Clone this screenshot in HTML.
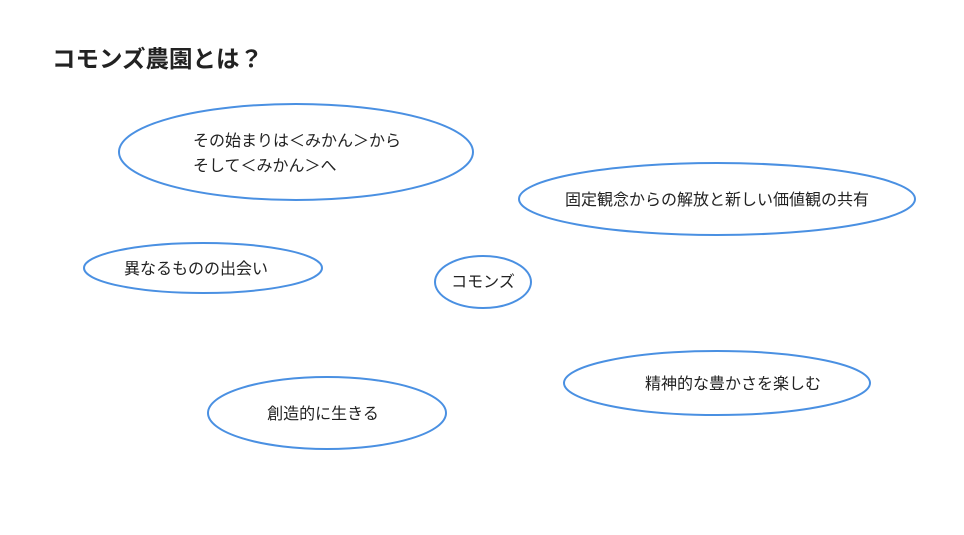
<!DOCTYPE html>
<html><head><meta charset="utf-8"><style>
html,body{margin:0;padding:0;background:#fff;}
svg{display:block;}
text{font-family:"Liberation Sans","Noto Sans CJK JP",sans-serif;fill:#222;}
</style></head><body>
<svg width="964" height="535" viewBox="0 0 964 535" xmlns="http://www.w3.org/2000/svg">
<rect width="964" height="535" fill="#fff"/>
<text x="52" y="67" font-size="23.5" font-weight="bold" fill="#111">コモンズ農園とは？</text>
<g fill="none" stroke="#4a90e2" stroke-width="2">
<ellipse cx="296" cy="152" rx="177" ry="48"/>
<ellipse cx="717" cy="199" rx="198" ry="36"/>
<ellipse cx="203" cy="268" rx="119" ry="25"/>
<ellipse cx="483" cy="282" rx="48" ry="26"/>
<ellipse cx="717" cy="383" rx="153" ry="32"/>
<ellipse cx="327" cy="413" rx="119" ry="36"/>
</g>
<g font-size="16">
<text x="193" y="146">その始まりは＜みかん＞から</text>
<text x="193" y="171">そして＜みかん＞へ</text>
<text x="717" y="205" text-anchor="middle">固定観念からの解放と新しい価値観の共有</text>
<text x="124" y="274">異なるものの出会い</text>
<text x="483" y="287" text-anchor="middle">コモンズ</text>
<text x="733" y="389" text-anchor="middle">精神的な豊かさを楽しむ</text>
<text x="323" y="419" text-anchor="middle">創造的に生きる</text>
</g>
</svg>
</body></html>
